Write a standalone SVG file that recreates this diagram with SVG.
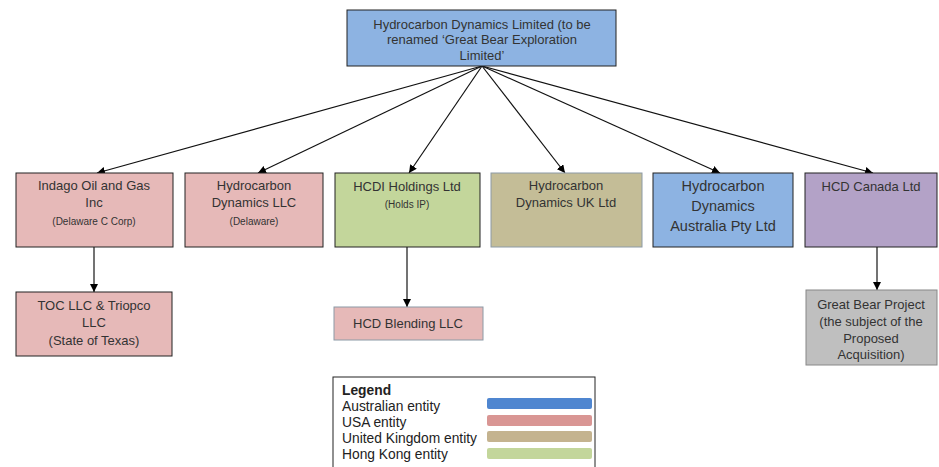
<svg xmlns="http://www.w3.org/2000/svg" width="939" height="467" viewBox="0 0 939 467">
<defs>
<marker id="ah" viewBox="0 0 10 10" refX="10" refY="5" markerWidth="8" markerHeight="8" markerUnits="userSpaceOnUse" orient="auto">
<path d="M0,0 L10,5 L0,10 z" fill="#000"/>
</marker>
<style>
.box{stroke:#222;stroke-width:1}
.t{font-family:"Liberation Sans",Arial,sans-serif;font-size:13px;fill:#333;text-anchor:middle}
.s{font-size:10px}
.b{font-size:14.5px}
.lg{font-family:"Liberation Sans",Arial,sans-serif;font-size:13.8px;fill:#222}
.c{stroke:#111;stroke-width:1.2;fill:none;marker-end:url(#ah)}
.v{stroke:#444;stroke-width:1.5;fill:none;marker-end:url(#ah)}
</style>
</defs>
<rect width="939" height="467" fill="#fff"/>
<g id="connectors">
<line class="c" x1="482" y1="66" x2="97" y2="173"/>
<line class="c" x1="482" y1="66" x2="258" y2="173"/>
<line class="c" x1="482" y1="66" x2="409" y2="173"/>
<line class="c" x1="482" y1="66" x2="565" y2="173"/>
<line class="c" x1="482" y1="66" x2="720" y2="173"/>
<line class="c" x1="482" y1="66" x2="873" y2="173"/>
<line class="v" x1="94" y1="247" x2="94" y2="292"/>
<line class="v" x1="407" y1="247" x2="407" y2="307"/>
<line class="v" x1="877" y1="247" x2="877" y2="290"/>
</g>
<g id="top">
<rect class="box" x="347" y="10" width="269" height="56" fill="#8db3e2"/>
<text class="t" x="482" y="29">Hydrocarbon Dynamics Limited (to be</text>
<text class="t" x="482" y="44">renamed ‘Great Bear Exploration</text>
<text class="t" x="482" y="60">Limited’</text>
</g>
<g id="indago">
<rect class="box" x="16" y="173" width="157" height="74" fill="#e6b9b8"/>
<text class="t" x="94" y="190">Indago Oil and Gas</text>
<text class="t" x="94" y="207">Inc</text>
<text class="t s" x="94" y="225">(Delaware C Corp)</text>
</g>
<g id="hcdllc">
<rect class="box" x="185" y="173" width="138" height="74" fill="#e6b9b8"/>
<text class="t" x="254" y="190">Hydrocarbon</text>
<text class="t" x="254" y="207">Dynamics LLC</text>
<text class="t s" x="254" y="225">(Delaware)</text>
</g>
<g id="hcdi">
<rect class="box" x="335" y="173" width="145" height="74" fill="#c3d69b"/>
<text class="t" x="407" y="191">HCDI Holdings Ltd</text>
<text class="t s" x="407" y="208">(Holds IP)</text>
</g>
<g id="uk">
<rect x="491" y="173" width="151" height="74" fill="#c4bd97" stroke="#8c9aa6" stroke-width="1"/>
<text class="t" x="566" y="190">Hydrocarbon</text>
<text class="t" x="566" y="207">Dynamics UK Ltd</text>
</g>
<g id="australia">
<rect class="box" x="653" y="173" width="140" height="74" fill="#8db3e2"/>
<text class="t b" x="723" y="191">Hydrocarbon</text>
<text class="t b" x="723" y="211">Dynamics</text>
<text class="t b" x="723" y="231">Australia Pty Ltd</text>
</g>
<g id="canada">
<rect class="box" x="805" y="173" width="132" height="74" fill="#b3a2c7"/>
<text class="t" x="871" y="191">HCD Canada Ltd</text>
</g>
<g id="toc">
<rect class="box" x="16" y="292" width="156" height="64" fill="#e6b9b8"/>
<text class="t" x="94" y="310">TOC LLC &amp; Triopco</text>
<text class="t" x="94" y="327">LLC</text>
<text class="t" x="94" y="345">(State of Texas)</text>
</g>
<g id="blending">
<rect x="334" y="307" width="149" height="33" fill="#e6b9b8" stroke="#8c9aa6" stroke-width="1"/>
<text class="t" x="408" y="328">HCD Blending LLC</text>
</g>
<g id="greatbear">
<rect x="806" y="290" width="131" height="75" fill="#bfbfbf" stroke="#888" stroke-width="1"/>
<text class="t" x="871" y="309">Great Bear Project</text>
<text class="t" x="871" y="326">(the subject of the</text>
<text class="t" x="871" y="343">Proposed</text>
<text class="t" x="871" y="359">Acquisition)</text>
</g>
<g id="legend">
<rect x="333" y="377" width="262" height="95" fill="#fff" stroke="#222" stroke-width="1"/>
<text class="lg" x="342" y="395" font-weight="bold">Legend</text>
<text class="lg" x="342" y="411">Australian entity</text>
<text class="lg" x="342" y="427">USA entity</text>
<text class="lg" x="342" y="443">United Kingdom entity</text>
<text class="lg" x="342" y="459">Hong Kong entity</text>
<rect x="487" y="398" width="105" height="11" rx="2" fill="#4f86d0"/>
<rect x="487" y="415" width="105" height="11" rx="2" fill="#d99694"/>
<rect x="487" y="431" width="105" height="11" rx="2" fill="#c4b38f"/>
<rect x="487" y="448" width="105" height="11" rx="2" fill="#c3d69b"/>
</g>
</svg>
